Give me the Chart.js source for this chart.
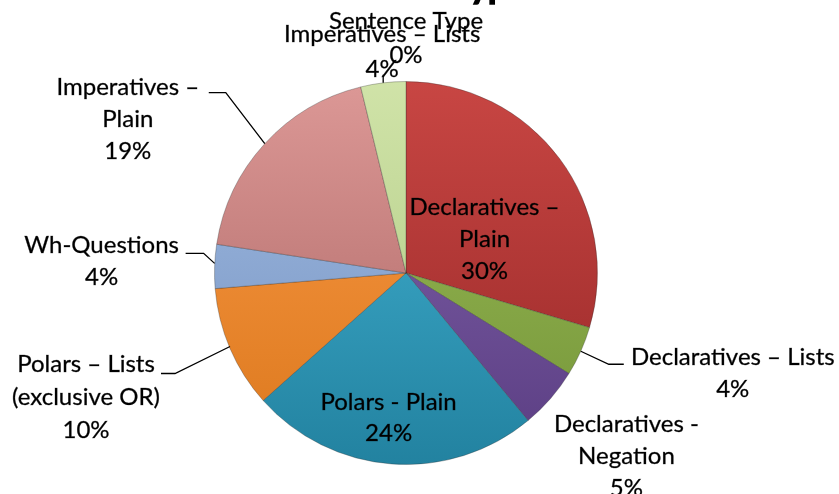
<!DOCTYPE html>
<html>
<head>
<meta charset="utf-8">
<script src="https://cdn.jsdelivr.net/npm/chart.js@4.4.1/dist/chart.umd.min.js"></script>
<style>
  html, body { margin: 0; padding: 0; background: #ffffff; overflow: hidden; }
  canvas { display: block; }
</style>
</head>
<body>
<canvas id="c" width="839" height="494"></canvas>
<script>
// ---- data ----
const chartTitle = 'Sentence Type';
const categories = [
  ['Sentence Type'],
  ['Declaratives –', 'Plain'],
  ['Declaratives – Lists'],
  ['Declaratives -', 'Negation'],
  ['Polars - Plain'],
  ['Polars – Lists', '(exclusive OR)'],
  ['Wh-Questions'],
  ['Imperatives –', 'Plain'],
  ['Imperatives – Lists']
];
const values = [0, 29.6, 4.2, 5.2, 24.4, 10.3, 3.7, 18.8, 3.8];

// ---- styles ----
const topColors    = ['#5B8DCB', '#C84643', '#9CBE58', '#8466AE', '#46B6D6', '#FA9A48', '#A0BCE3', '#DC9896', '#D0E3A8'];
const bottomColors = ['#3F6CA6', '#982828', '#749438', '#5A3D82', '#2282A0', '#DC781C', '#7692C0', '#AA6462', '#ACC780'];
// label placement: offsets relative to the slice's outer-edge midpoint
const placement = [
  { lx: 0,    ly: -60, lh: 34 },
  { lx: -75,  ly: 49,  lh: 32 },
  { lx: 152,  ly: 6,   lh: 32, leader: [[0,0],[28,13],[43,13]] },
  { lx: 76,   ly: 26,  lh: 32 },
  { lx: -3,   ly: -62, lh: 31 },
  { lx: -144, ly: 16,  lh: 33, leader: [[0,-2],[-55,25],[-69,25]] },
  { lx: -113, ly: -21, lh: 32, leader: [[0,-3],[-11,-13],[-29,-13]] },
  { lx: -137, ly: -56, lh: 32, leader: [[0,0],[-39,-51],[-56,-51]] },
  { lx: -1,   ly: -49, lh: 35, leader: [[0,0],[0,-8]] }
];
const FONT = '24px Lato, "Open Sans", sans-serif';

const labelPlugin = {
  id: 'pieLabels',
  afterDraw(chart) {
    const ctx = chart.ctx;
    const meta = chart.getDatasetMeta(0);
    const data = chart.data.datasets[0].data;
    const total = data.reduce((a, b) => a + b, 0);
    ctx.save();
    // title (mostly above the top edge of the picture, as in the reference)
    ctx.fillStyle = '#000';
    ctx.strokeStyle = '#000';
    ctx.lineWidth = 1.5;
    ctx.font = 'bold 34px Lato, sans-serif';
    ctx.textAlign = 'center';
    ctx.textBaseline = 'alphabetic';
    ctx.fillText(chartTitle, 415, -2);
    ctx.strokeText(chartTitle, 415, -2);

    meta.data.forEach((arc, i) => {
      const p = arc.getProps(['x', 'y', 'startAngle', 'endAngle', 'outerRadius'], true);
      const mid = (p.startAngle + p.endAngle) / 2;
      const ex = p.x + Math.cos(mid) * p.outerRadius;
      const ey = p.y + Math.sin(mid) * p.outerRadius;
      const pl = placement[i];
      if (pl.leader) {
        ctx.strokeStyle = '#000';
        ctx.lineWidth = 1.3;
        ctx.beginPath();
        pl.leader.forEach((pt, k) => {
          if (k === 0) ctx.moveTo(ex + pt[0], ey + pt[1]);
          else ctx.lineTo(ex + pt[0], ey + pt[1]);
        });
        ctx.stroke();
      }
      const pct = Math.round(data[i] / total * 100) + '%';
      const lines = chart.data.labels[i].concat([pct]);
      ctx.font = FONT;
      ctx.fillStyle = '#000';
      ctx.strokeStyle = 'rgba(0,0,0,0.55)';
      ctx.lineWidth = 0.5;
      ctx.textAlign = 'center';
      ctx.textBaseline = 'middle';
      lines.forEach((t, k) => {
        const tx = ex + pl.lx, ty = ey + pl.ly + k * pl.lh;
        ctx.fillText(t, tx, ty);
        ctx.strokeText(t, tx, ty);
      });
    });
    ctx.restore();
  }
};

function grad(context) {
  const i = context.dataIndex;
  const chart = context.chart;
  const area = chart.chartArea;
  if (!area) return topColors[i];
  const g = chart.ctx.createLinearGradient(0, area.top, 0, area.bottom);
  g.addColorStop(0, topColors[i]);
  g.addColorStop(1, bottomColors[i]);
  return g;
}

new Chart(document.getElementById('c'), {
  type: 'pie',
  data: {
    labels: categories,
    datasets: [{
      data: values,
      backgroundColor: grad,
      borderColor: 'rgba(40,40,40,0.3)',
      borderWidth: 1
    }]
  },
  options: {
    responsive: false,
    animation: false,
    layout: { padding: { top: 81, bottom: 29, left: 0, right: 27 } },
    plugins: {
      legend: { display: false },
      tooltip: { enabled: false },
      title: { display: false }
    }
  },
  plugins: [labelPlugin]
});
</script>
</body>
</html>
